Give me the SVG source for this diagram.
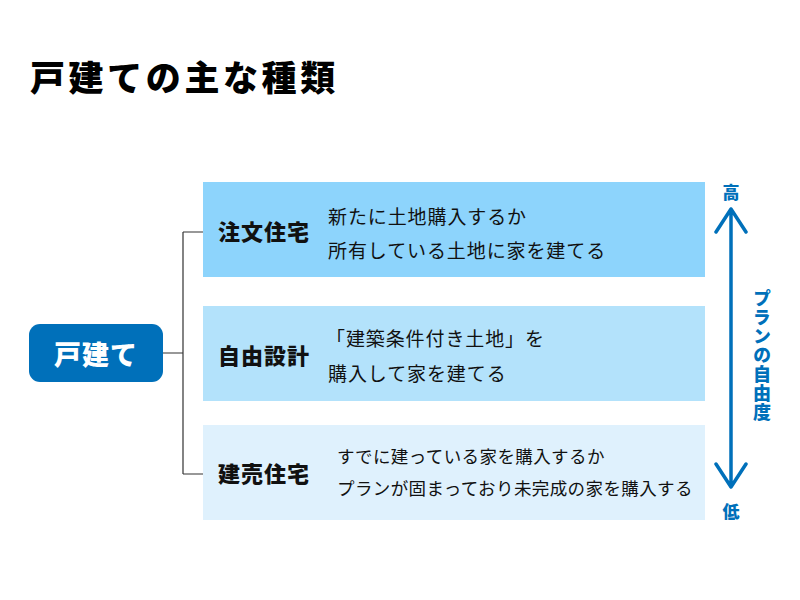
<svg xmlns="http://www.w3.org/2000/svg" width="800" height="600" viewBox="0 0 800 600">
  <style>
    text { font-family: "Noto Sans CJK JP", "Noto Sans", sans-serif; }
    .title { font-size: 35px; font-weight: 900; fill: #000; letter-spacing: 3.6px; }
    .label { font-size: 22px; font-weight: 900; fill: #111; letter-spacing: 1px; dominant-baseline: central; }
    .desc { font-size: 19px; fill: #111; letter-spacing: 0.9px; dominant-baseline: central; }
    .desc3 { font-size: 17.5px; fill: #111; letter-spacing: 0.4px; dominant-baseline: central; }
    .conn { fill: none; stroke: #333; stroke-width: 1.2; }
    .axis { fill: none; stroke: #0070ba; stroke-width: 3.5; stroke-linecap: round; stroke-linejoin: round; }
    .axisText { font-size: 17px; font-weight: 900; fill: #0070ba; text-anchor: middle; dominant-baseline: central; }
  </style>

  <text class="title" x="30" y="91">戸建ての主な種類</text>

  <g id="connectors">
    <path class="conn" d="M163 353 H183 M183 232 V474 M183 232 H203 M183 474 H203"/>
  </g>

  <g id="root">
    <rect x="29" y="324" width="134" height="58" rx="11" fill="#0070ba"/>
    <text x="96" y="353" font-size="27" font-weight="900" fill="#fff" text-anchor="middle" dominant-baseline="central" letter-spacing="1">戸建て</text>
  </g>

  <g id="chumon">
    <rect x="203" y="182" width="502" height="95" fill="#8dd4fc"/>
    <text class="label" x="218" y="230">注文住宅</text>
    <text class="desc" x="328" y="215">新たに土地購入するか</text>
    <text class="desc" x="328" y="249">所有している土地に家を建てる</text>
  </g>

  <g id="jiyu">
    <rect x="203" y="306" width="502" height="95" fill="#b3e2fb"/>
    <text class="label" x="218" y="354">自由設計</text>
    <text class="desc" x="326" y="337">「建築条件付き土地」を</text>
    <text class="desc" x="328" y="372">購入して家を建てる</text>
  </g>

  <g id="tateuri">
    <rect x="203" y="425" width="502" height="95" fill="#dff1fd"/>
    <text class="label" x="218" y="472">建売住宅</text>
    <text class="desc3" x="337" y="455">すでに建っている家を購入するか</text>
    <text class="desc3" x="337" y="487">プランが固まっており未完成の家を購入する</text>
  </g>

  <g id="axis">
    <path class="axis" d="M731 209 V487 M716 232 L731 209 L746 232 M716 464 L731 487 L746 464"/>
    <text class="axisText" x="731" y="191">高</text>
    <text class="axisText" x="731" y="510">低</text>
    <text class="axisText" x="762" y="356" writing-mode="tb" letter-spacing="1" style="dominant-baseline:auto; font-size:18px">プランの自由度</text>
  </g>
</svg>
